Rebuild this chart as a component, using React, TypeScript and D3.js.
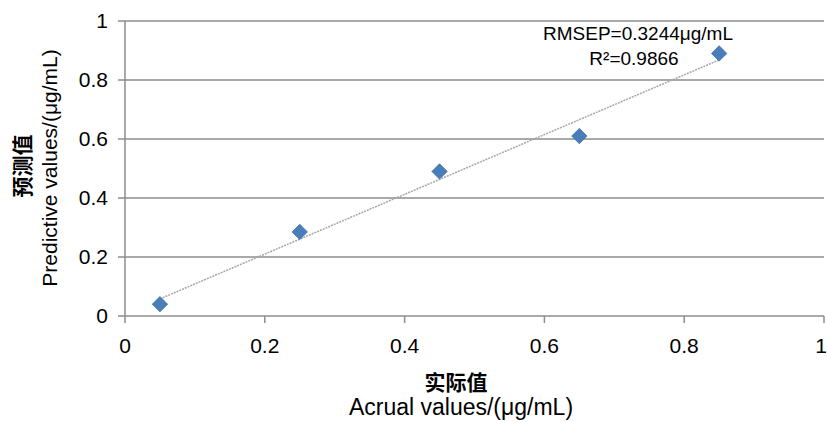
import React from 'react';
import * as d3 from 'd3';

// measured vs predicted values
const actual = [0.05, 0.25, 0.45, 0.65, 0.85];
const predicted = [0.04, 0.285, 0.49, 0.61, 0.89];
const ticks = [0, 0.2, 0.4, 0.6, 0.8, 1];
const notes = ['RMSEP=0.3244μg/mL', 'R²=0.9866'];

const W = 827, H = 422;
const m = { left: 125, right: 3, top: 21, bottom: 106 };

const App = () => {
  const x = d3.scaleLinear().domain([0, 1]).range([m.left, W - m.right]);
  const y = d3.scaleLinear().domain([0, 1]).range([H - m.bottom, m.top]);

  // least squares trend line
  const mx = d3.mean(actual)!, my = d3.mean(predicted)!;
  const sxy = d3.sum(actual, (v, i) => (v - mx) * (predicted[i] - my));
  const sxx = d3.sum(actual, v => (v - mx) ** 2);
  const slope = sxy / sxx, icpt = my - slope * mx;
  const x0 = d3.min(actual)!, x1 = d3.max(actual)!;

  const diamond = d3.symbol().type(d3.symbolDiamond2).size(150)()!;
  const font = 'Liberation Sans, Arial, sans-serif';
  const cjk = 'Noto Sans CJK SC';
  const grid = '#8c8c8c';
  const fmt = d3.format('~g');

  return (
    <svg width={W} height={H} style={{ position: 'absolute', left: 0, top: 0 }} fontFamily={font}>
      {ticks.map(t => (
        <line key={'g' + t} x1={m.left - 7} x2={x(1)} y1={y(t)} y2={y(t)} stroke={grid} strokeWidth={1.5} />
      ))}
      <line x1={m.left} x2={m.left} y1={y(1)} y2={y(0)} stroke={grid} strokeWidth={1.5} />
      {ticks.map(t => (
        <line key={'xt' + t} x1={x(t)} x2={x(t)} y1={y(0)} y2={y(0) + 7} stroke={grid} strokeWidth={1.5} />
      ))}
      {ticks.map(t => (
        <text key={'yl' + t} x={m.left - 17} y={y(t) + 7} textAnchor="end" fontSize={21}>{fmt(t)}</text>
      ))}
      {ticks.map(t => (
        <text key={'xl' + t} x={x(t) - (t === 1 ? 3 : 0)} y={y(0) + 37} textAnchor="middle" fontSize={21}>{fmt(t)}</text>
      ))}
      <line x1={x(x0)} x2={x(x1)} y1={y(slope * x0 + icpt)} y2={y(slope * x1 + icpt)}
        stroke="#a6a6a6" strokeWidth={1.5} strokeDasharray="2,1" />
      {actual.map((v, i) => (
        <path key={'p' + i} d={diamond} transform={`translate(${x(v)},${y(predicted[i])})`}
          fill="#4a7ebb" stroke="#3c6da8" strokeWidth={0.8} />
      ))}
      <text x={638} y={40} textAnchor="middle" fontSize={19}>{notes[0]}</text>
      <text x={634} y={65} textAnchor="middle" fontSize={19}>{notes[1]}</text>
      <text x={456} y={390} textAnchor="middle" fontSize={21} fontWeight="bold" fontFamily={cjk}>实际值</text>
      <text x={461} y={415} textAnchor="middle" fontSize={23}>Acrual values/(μg/mL)</text>
      <text transform="translate(30,166) rotate(-90)" textAnchor="middle" fontSize={21} fontWeight="bold" fontFamily={cjk}>预测值</text>
      <text transform="translate(57,168) rotate(-90)" textAnchor="middle" fontSize={21}>Predictive values/(μg/mL)</text>
    </svg>
  );
};

export default App;
